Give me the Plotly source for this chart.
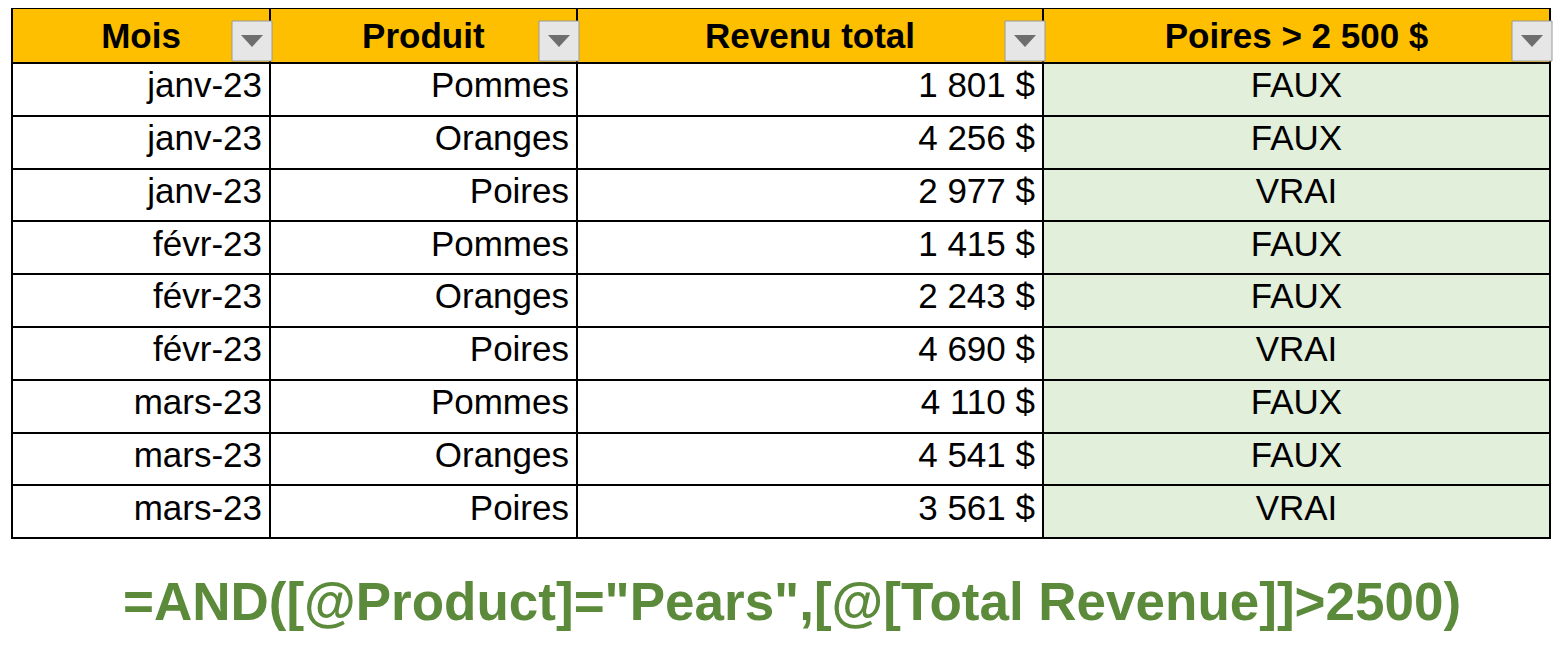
import plotly.graph_objects as go

# table data
headers = ["Mois", "Produit", "Revenu total", "Poires > 2 500 $"]
mois = ["janv-23", "janv-23", "janv-23", "févr-23", "févr-23", "févr-23",
        "mars-23", "mars-23", "mars-23"]
produits = ["Pommes", "Oranges", "Poires"] * 3
revenus = [1801, 4256, 2977, 1415, 2243, 4690, 4110, 4541, 3561]
test = ["FAUX", "FAUX", "VRAI", "FAUX", "FAUX", "VRAI", "FAUX", "FAUX", "VRAI"]
formule = '=AND([@Product]="Pears",[@[Total Revenue]]>2500)'

W, H = 1568, 672
col_edges = [12, 270, 577, 1043, 1550]
widths = [col_edges[i + 1] - col_edges[i] for i in range(4)]
pad = 8  # plotly table inner offset

revenu_txt = [f"{v:,}".replace(",", " ") + " $" for v in revenus]

fig = go.Figure(go.Table(
    domain=dict(x=[(col_edges[0] - pad) / W, (col_edges[-1] - pad) / W], y=[0.2, 1.0]),
    columnwidth=widths,
    header=dict(
        values=[f"<b>{h}</b>" for h in headers],
        fill_color="#FDBF00",
        line=dict(color="black", width=2),
        align="center",
        height=52,
        font=dict(family="Liberation Sans", size=35, color="black"),
    ),
    cells=dict(
        values=[mois, produits, revenu_txt, test],
        fill_color=[["white"] * 9, ["white"] * 9, ["white"] * 9, ["#E2EFDA"] * 9],
        line=dict(color="black", width=2),
        align=["right", "right", "right", "center"],
        height=52.8,
        font=dict(family="Liberation Sans", size=35, color="black"),
    ),
))

# dropdown icons in header
shapes = []
for i in range(4):
    x1 = col_edges[i + 1] - 6
    x0 = x1 - 40
    y0, y1 = 13, 53
    shapes.append(dict(type="rect", xref="paper", yref="paper",
                       x0=x0 / W, x1=x1 / W, y0=1 - y1 / H, y1=1 - y0 / H,
                       fillcolor="#E6E6E6", line=dict(color="#9A9A9A", width=1)))
    cx, cy = (x0 + x1) / 2, 32
    path = (f"M {(cx - 11) / W},{1 - (cy - 5) / H} L {(cx + 11) / W},{1 - (cy - 5) / H} "
            f"L {cx / W},{1 - (cy + 7) / H} Z")
    shapes.append(dict(type="path", xref="paper", yref="paper", path=path,
                       fillcolor="#6E6E6E", line=dict(width=0)))

fig.update_layout(
    width=W, height=H,
    margin=dict(l=0, r=0, t=0, b=0),
    paper_bgcolor="white",
    shapes=shapes,
    annotations=[dict(
        text=f"<b>{formule}</b>", x=0.5, y=1 - 625 / H, xref="paper", yref="paper",
        showarrow=False, font=dict(family="Liberation Sans", size=53, color="#5B8A3A"),
    )],
)

fig.write_html("out.html")
